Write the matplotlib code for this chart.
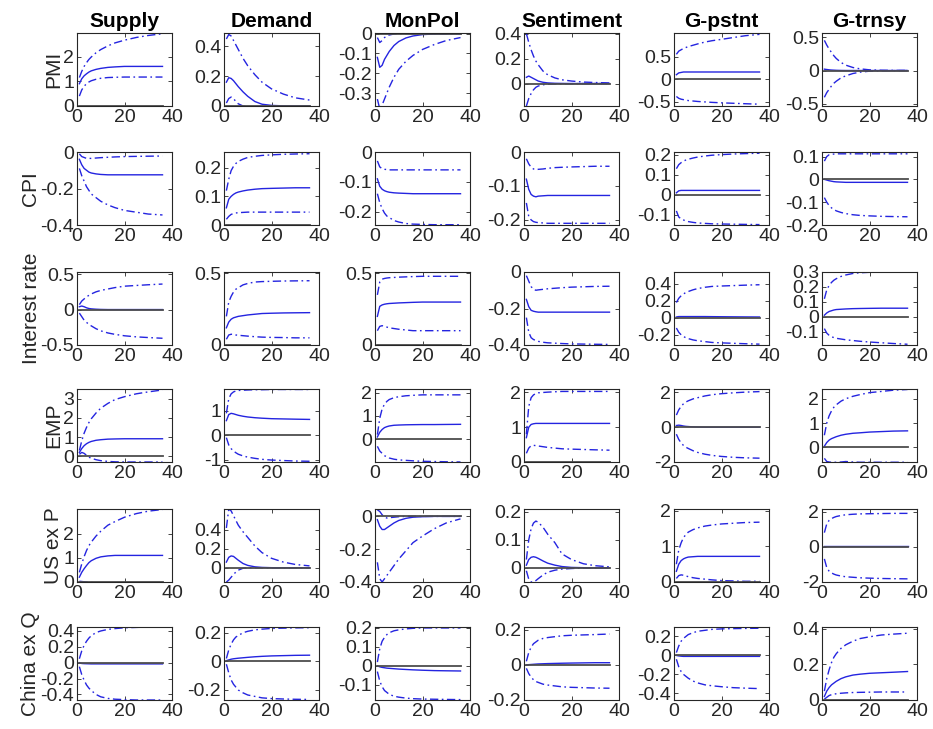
import matplotlib.pyplot as plt

plt.rcParams['font.family'] = ['Liberation Sans', 'DejaVu Sans']
plt.rcParams['axes.unicode_minus'] = False

h = [1, 2, 3, 4, 5, 6, 8, 10, 13, 16, 20, 25, 30, 36]

shocks = ['Supply', 'Demand', 'MonPol', 'Sentiment', 'G-pstnt', 'G-trnsy']
variables = ['PMI', 'CPI', 'Interest rate', 'EMP', 'US ex P', 'China ex Q']

# ---- PMI
pmi_sup_lo = [0.4, 0.65, 0.8, 0.9, 0.97, 1.02, 1.08, 1.12, 1.15, 1.16, 1.17, 1.17, 1.17, 1.17]
pmi_sup_md = [0.9, 1.1, 1.22, 1.3, 1.37, 1.42, 1.48, 1.52, 1.56, 1.58, 1.6, 1.6, 1.6, 1.6]
pmi_sup_hi = [1.15, 1.4, 1.6, 1.75, 1.88, 1.98, 2.15, 2.28, 2.43, 2.55, 2.66, 2.77, 2.85, 2.92]
pmi_dem_lo = [0.02, 0.05, 0.06, 0.05, 0.03, 0.015, 0.0, -0.005, -0.005, -0.005, -0.005, -0.005, -0.005, -0.005]
pmi_dem_md = [0.16, 0.19, 0.185, 0.17, 0.15, 0.13, 0.095, 0.065, 0.03, 0.012, 0.004, 0.001, 0.0, 0.0]
pmi_dem_hi = [0.45, 0.48, 0.47, 0.44, 0.41, 0.38, 0.32, 0.27, 0.21, 0.16, 0.115, 0.08, 0.055, 0.04]
pmi_mon_lo = [-0.33, -0.38, -0.36, -0.33, -0.3, -0.27, -0.22, -0.18, -0.14, -0.11, -0.08, -0.055, -0.035, -0.02]
pmi_mon_md = [-0.12, -0.17, -0.16, -0.13, -0.11, -0.09, -0.06, -0.04, -0.022, -0.012, -0.005, -0.002, -0.001, 0.0]
pmi_mon_hi = [-0.02, -0.045, -0.035, -0.02, -0.012, -0.007, -0.002, 0.0, 0.0, 0.0, 0.0, 0.0, 0.0, 0.0]
pmi_sen_lo = [-0.18, -0.12, -0.08, -0.05, -0.03, -0.02, -0.01, -0.005, -0.003, -0.002, -0.001, 0.0, 0.0, 0.0]
pmi_sen_md = [0.05, 0.06, 0.05, 0.04, 0.03, 0.02, 0.01, 0.005, 0.002, 0.001, 0.0, 0.0, 0.0, 0.0]
pmi_sen_hi = [0.4, 0.33, 0.27, 0.22, 0.18, 0.15, 0.1, 0.07, 0.045, 0.03, 0.02, 0.012, 0.008, 0.005]
pmi_pst_lo = [-0.38, -0.42, -0.44, -0.45, -0.46, -0.47, -0.48, -0.49, -0.5, -0.51, -0.52, -0.53, -0.54, -0.55]
pmi_pst_md = [0.1, 0.14, 0.15, 0.16, 0.16, 0.16, 0.16, 0.16, 0.16, 0.16, 0.16, 0.16, 0.16, 0.16]
pmi_pst_hi = [0.55, 0.62, 0.65, 0.68, 0.7, 0.72, 0.75, 0.78, 0.82, 0.85, 0.88, 0.92, 0.96, 0.99]
pmi_trn_lo = [-0.4, -0.33, -0.28, -0.23, -0.19, -0.16, -0.11, -0.08, -0.045, -0.025, -0.01, -0.004, -0.002, -0.001]
pmi_trn_md = [0.02, 0.015, 0.01, 0.007, 0.005, 0.003, 0.001, 0.0, 0.0, 0.0, 0.0, 0.0, 0.0, 0.0]
pmi_trn_hi = [0.45, 0.38, 0.32, 0.27, 0.22, 0.18, 0.12, 0.08, 0.045, 0.025, 0.01, 0.004, 0.002, 0.001]

# ---- CPI
cpi_sup_lo = [-0.09, -0.13, -0.16, -0.19, -0.21, -0.23, -0.25, -0.27, -0.29, -0.305, -0.32, -0.33, -0.34, -0.345]
cpi_sup_md = [-0.04, -0.07, -0.09, -0.1, -0.11, -0.115, -0.12, -0.123, -0.125, -0.125, -0.125, -0.125, -0.125, -0.125]
cpi_sup_hi = [-0.01, -0.025, -0.03, -0.035, -0.035, -0.035, -0.033, -0.031, -0.029, -0.027, -0.025, -0.024, -0.023, -0.022]
cpi_dem_lo = [0.02, 0.03, 0.037, 0.04, 0.042, 0.043, 0.044, 0.045, 0.045, 0.045, 0.045, 0.045, 0.045, 0.045]
cpi_dem_md = [0.06, 0.09, 0.1, 0.107, 0.112, 0.115, 0.119, 0.122, 0.125, 0.127, 0.128, 0.129, 0.13, 0.13]
cpi_dem_hi = [0.12, 0.16, 0.19, 0.205, 0.215, 0.222, 0.23, 0.236, 0.24, 0.243, 0.245, 0.247, 0.248, 0.249]
cpi_mon_lo = [-0.14, -0.17, -0.19, -0.205, -0.215, -0.22, -0.23, -0.235, -0.24, -0.242, -0.243, -0.244, -0.244, -0.244]
cpi_mon_md = [-0.09, -0.115, -0.125, -0.13, -0.133, -0.135, -0.137, -0.138, -0.139, -0.14, -0.14, -0.14, -0.14, -0.14]
cpi_mon_hi = [-0.03, -0.05, -0.056, -0.058, -0.059, -0.06, -0.06, -0.06, -0.06, -0.06, -0.06, -0.06, -0.06, -0.06]
cpi_sen_lo = [-0.15, -0.19, -0.2, -0.205, -0.207, -0.208, -0.209, -0.21, -0.21, -0.21, -0.21, -0.21, -0.21, -0.21]
cpi_sen_md = [-0.08, -0.11, -0.125, -0.13, -0.132, -0.13, -0.129, -0.128, -0.128, -0.128, -0.128, -0.128, -0.128, -0.128]
cpi_sen_hi = [-0.02, -0.035, -0.045, -0.05, -0.052, -0.051, -0.05, -0.048, -0.046, -0.045, -0.044, -0.043, -0.042, -0.042]
cpi_pst_lo = [-0.08, -0.11, -0.12, -0.125, -0.13, -0.133, -0.137, -0.14, -0.142, -0.144, -0.145, -0.146, -0.147, -0.148]
cpi_pst_md = [0.01, 0.02, 0.022, 0.022, 0.022, 0.022, 0.022, 0.022, 0.022, 0.022, 0.022, 0.022, 0.022, 0.022]
cpi_pst_hi = [0.13, 0.15, 0.16, 0.168, 0.173, 0.177, 0.183, 0.188, 0.193, 0.197, 0.2, 0.203, 0.205, 0.207]
cpi_trn_lo = [-0.08, -0.1, -0.115, -0.125, -0.132, -0.138, -0.145, -0.15, -0.155, -0.158, -0.16, -0.162, -0.163, -0.164]
cpi_trn_md = [0.0, -0.003, -0.006, -0.008, -0.01, -0.011, -0.012, -0.013, -0.013, -0.013, -0.013, -0.013, -0.013, -0.013]
cpi_trn_hi = [0.08, 0.1, 0.108, 0.11, 0.111, 0.112, 0.112, 0.112, 0.112, 0.112, 0.112, 0.112, 0.112, 0.112]

# ---- Interest rate
ir_sup_lo = [-0.05, -0.1, -0.15, -0.18, -0.21, -0.23, -0.27, -0.3, -0.33, -0.35, -0.37, -0.385, -0.395, -0.405]
ir_sup_md = [0.04, 0.05, 0.04, 0.025, 0.015, 0.01, 0.005, 0.002, 0.0, 0.0, 0.0, 0.0, 0.0, 0.0]
ir_sup_hi = [0.07, 0.12, 0.15, 0.18, 0.2, 0.22, 0.25, 0.27, 0.29, 0.31, 0.33, 0.34, 0.35, 0.36]
ir_dem_lo = [0.04, 0.07, 0.075, 0.075, 0.07, 0.068, 0.065, 0.062, 0.058, 0.055, 0.053, 0.052, 0.05, 0.05]
ir_dem_md = [0.12, 0.16, 0.18, 0.19, 0.195, 0.2, 0.205, 0.21, 0.215, 0.22, 0.222, 0.224, 0.225, 0.226]
ir_dem_hi = [0.2, 0.3, 0.34, 0.37, 0.39, 0.4, 0.42, 0.43, 0.44, 0.443, 0.445, 0.447, 0.448, 0.449]
ir_mon_lo = [0.1, 0.13, 0.135, 0.13, 0.125, 0.12, 0.115, 0.11, 0.105, 0.1, 0.1, 0.1, 0.1, 0.1]
ir_mon_md = [0.2, 0.27, 0.28, 0.285, 0.288, 0.29, 0.292, 0.294, 0.296, 0.298, 0.3, 0.3, 0.3, 0.3]
ir_mon_hi = [0.35, 0.44, 0.46, 0.465, 0.468, 0.47, 0.472, 0.474, 0.476, 0.478, 0.48, 0.48, 0.48, 0.48]
ir_sen_lo = [-0.25, -0.33, -0.36, -0.37, -0.375, -0.38, -0.385, -0.388, -0.39, -0.392, -0.394, -0.395, -0.396, -0.397]
ir_sen_md = [-0.15, -0.19, -0.21, -0.215, -0.218, -0.22, -0.22, -0.22, -0.22, -0.22, -0.22, -0.22, -0.22, -0.22]
ir_sen_hi = [-0.02, -0.05, -0.08, -0.095, -0.1, -0.098, -0.095, -0.092, -0.089, -0.086, -0.083, -0.081, -0.079, -0.078]
ir_pst_lo = [-0.12, -0.17, -0.2, -0.22, -0.235, -0.245, -0.26, -0.27, -0.28, -0.29, -0.295, -0.3, -0.305, -0.31]
ir_pst_md = [0.01, 0.015, 0.015, 0.015, 0.015, 0.015, 0.015, 0.015, 0.015, 0.014, 0.013, 0.012, 0.011, 0.01]
ir_pst_hi = [0.18, 0.23, 0.26, 0.28, 0.3, 0.31, 0.33, 0.345, 0.36, 0.37, 0.375, 0.38, 0.385, 0.39]
ir_trn_lo = [-0.08, -0.11, -0.125, -0.135, -0.14, -0.145, -0.15, -0.155, -0.16, -0.165, -0.17, -0.175, -0.18, -0.185]
ir_trn_md = [0.01, 0.025, 0.035, 0.04, 0.045, 0.048, 0.05, 0.052, 0.054, 0.055, 0.056, 0.057, 0.057, 0.057]
ir_trn_hi = [0.12, 0.18, 0.21, 0.23, 0.245, 0.255, 0.27, 0.28, 0.29, 0.295, 0.298, 0.3, 0.3, 0.3]

# ---- EMP
emp_sup_lo = [0.1, 0.2, 0.15, 0.05, -0.05, -0.1, -0.18, -0.23, -0.27, -0.29, -0.3, -0.3, -0.3, -0.3]
emp_sup_md = [0.2, 0.4, 0.55, 0.65, 0.72, 0.77, 0.83, 0.86, 0.89, 0.9, 0.91, 0.91, 0.91, 0.91]
emp_sup_hi = [0.3, 0.8, 1.2, 1.5, 1.75, 1.95, 2.25, 2.5, 2.75, 2.95, 3.1, 3.25, 3.35, 3.45]
emp_dem_lo = [-0.1, -0.4, -0.55, -0.65, -0.72, -0.78, -0.85, -0.9, -0.95, -0.99, -1.02, -1.04, -1.06, -1.07]
emp_dem_md = [0.6, 0.85, 0.9, 0.88, 0.85, 0.82, 0.78, 0.75, 0.72, 0.7, 0.68, 0.67, 0.66, 0.65]
emp_dem_hi = [0.9, 1.5, 1.7, 1.78, 1.82, 1.84, 1.85, 1.86, 1.87, 1.87, 1.88, 1.88, 1.88, 1.88]
emp_mon_lo = [-0.3, -0.5, -0.6, -0.7, -0.75, -0.8, -0.85, -0.88, -0.9, -0.92, -0.94, -0.95, -0.96, -0.97]
emp_mon_md = [0.1, 0.3, 0.42, 0.5, 0.54, 0.57, 0.6, 0.61, 0.62, 0.625, 0.63, 0.63, 0.635, 0.64]
emp_mon_hi = [0.2, 0.9, 1.3, 1.5, 1.62, 1.7, 1.78, 1.82, 1.86, 1.88, 1.9, 1.9, 1.9, 1.9]
emp_sen_lo = [0.25, 0.4, 0.47, 0.48, 0.47, 0.46, 0.44, 0.42, 0.4, 0.38, 0.37, 0.36, 0.35, 0.34]
emp_sen_md = [0.7, 1.0, 1.08, 1.1, 1.11, 1.11, 1.11, 1.11, 1.11, 1.11, 1.11, 1.11, 1.11, 1.11]
emp_sen_hi = [0.8, 1.6, 1.85, 1.93, 1.97, 1.99, 2.0, 2.01, 2.02, 2.03, 2.03, 2.03, 2.03, 2.03]
emp_pst_lo = [-0.4, -0.7, -0.9, -1.05, -1.15, -1.22, -1.35, -1.45, -1.55, -1.62, -1.68, -1.73, -1.76, -1.78]
emp_pst_md = [0.1, 0.12, 0.1, 0.07, 0.05, 0.04, 0.02, 0.01, 0.0, 0.0, 0.0, 0.0, 0.0, 0.0]
emp_pst_hi = [0.7, 1.0, 1.2, 1.35, 1.45, 1.52, 1.63, 1.7, 1.8, 1.87, 1.93, 1.98, 2.02, 2.05]
emp_trn_lo = [-0.45, -0.58, -0.6, -0.61, -0.61, -0.61, -0.6, -0.58, -0.6, -0.61, -0.61, -0.61, -0.61, -0.61]
emp_trn_md = [0.05, 0.2, 0.3, 0.36, 0.4, 0.44, 0.5, 0.54, 0.58, 0.6, 0.63, 0.65, 0.67, 0.68]
emp_trn_hi = [0.5, 1.0, 1.3, 1.5, 1.65, 1.75, 1.9, 2.0, 2.1, 2.17, 2.25, 2.3, 2.35, 2.38]

# ---- US ex P
us_sup_lo = [0.03, 0.02, 0.01, 0.0, -0.01, -0.02, -0.03, -0.04, -0.05, -0.05, -0.05, -0.05, -0.05, -0.05]
us_sup_md = [0.2, 0.4, 0.55, 0.68, 0.8, 0.88, 0.98, 1.04, 1.08, 1.1, 1.1, 1.1, 1.1, 1.1]
us_sup_hi = [0.4, 0.75, 1.05, 1.3, 1.5, 1.65, 1.9, 2.1, 2.35, 2.5, 2.68, 2.83, 2.93, 3.0]
us_dem_lo = [-0.15, -0.13, -0.1, -0.07, -0.045, -0.025, -0.005, 0.0, 0.0, 0.0, 0.0, 0.0, 0.0, 0.0]
us_dem_md = [0.06, 0.11, 0.125, 0.12, 0.1, 0.08, 0.045, 0.025, 0.01, 0.004, 0.001, 0.0, 0.0, 0.0]
us_dem_hi = [0.42, 0.62, 0.6, 0.55, 0.5, 0.45, 0.38, 0.32, 0.23, 0.16, 0.1, 0.06, 0.035, 0.02]
us_mon_lo = [-0.28, -0.38, -0.4, -0.38, -0.36, -0.34, -0.3, -0.26, -0.21, -0.16, -0.12, -0.075, -0.04, -0.015]
us_mon_md = [-0.02, -0.06, -0.08, -0.08, -0.07, -0.06, -0.04, -0.025, -0.012, -0.005, -0.002, 0.0, 0.0, 0.0]
us_mon_hi = [0.04, 0.03, 0.01, -0.005, -0.01, -0.008, -0.005, -0.002, 0.0, 0.0, 0.0, 0.0, 0.0, 0.0]
us_sen_lo = [-0.01, -0.04, -0.05, -0.05, -0.045, -0.038, -0.025, -0.015, -0.008, -0.004, -0.002, 0.0, 0.0, 0.0]
us_sen_md = [0.01, 0.03, 0.038, 0.04, 0.038, 0.034, 0.025, 0.017, 0.01, 0.005, 0.002, 0.001, 0.0, 0.0]
us_sen_hi = [0.03, 0.1, 0.14, 0.16, 0.167, 0.163, 0.145, 0.12, 0.09, 0.05, 0.03, 0.015, 0.008, 0.004]
us_pst_lo = [0.1, 0.18, 0.2, 0.19, 0.17, 0.15, 0.12, 0.1, 0.08, 0.06, 0.04, 0.03, 0.02, 0.02]
us_pst_md = [0.3, 0.5, 0.6, 0.65, 0.68, 0.7, 0.71, 0.72, 0.72, 0.72, 0.72, 0.72, 0.72, 0.72]
us_pst_hi = [0.5, 0.9, 1.1, 1.25, 1.33, 1.4, 1.47, 1.52, 1.57, 1.6, 1.63, 1.65, 1.67, 1.68]
us_trn_lo = [-0.7, -1.2, -1.4, -1.5, -1.57, -1.62, -1.68, -1.72, -1.75, -1.78, -1.8, -1.82, -1.83, -1.84]
us_trn_md = [0.02, 0.02, 0.02, 0.02, 0.02, 0.02, 0.02, 0.02, 0.02, 0.02, 0.02, 0.02, 0.02, 0.02]
us_trn_hi = [0.8, 1.3, 1.5, 1.6, 1.67, 1.72, 1.78, 1.82, 1.85, 1.87, 1.88, 1.89, 1.9, 1.9]

# ---- China ex Q
cn_sup_lo = [-0.05, -0.15, -0.22, -0.28, -0.32, -0.35, -0.4, -0.43, -0.45, -0.46, -0.465, -0.47, -0.47, -0.47]
cn_sup_md = [0.0, -0.01, -0.012, -0.013, -0.014, -0.015, -0.015, -0.015, -0.015, -0.015, -0.015, -0.015, -0.015, -0.015]
cn_sup_hi = [0.05, 0.15, 0.22, 0.27, 0.31, 0.34, 0.38, 0.4, 0.42, 0.43, 0.44, 0.445, 0.45, 0.45]
cn_dem_lo = [-0.02, -0.08, -0.13, -0.16, -0.18, -0.2, -0.22, -0.235, -0.245, -0.255, -0.26, -0.263, -0.265, -0.266]
cn_dem_md = [0.005, 0.01, 0.015, 0.018, 0.02, 0.022, 0.025, 0.028, 0.032, 0.035, 0.038, 0.04, 0.042, 0.043]
cn_dem_hi = [0.02, 0.08, 0.12, 0.15, 0.17, 0.18, 0.2, 0.21, 0.22, 0.225, 0.23, 0.232, 0.234, 0.235]
cn_mon_lo = [-0.03, -0.08, -0.11, -0.13, -0.14, -0.15, -0.16, -0.165, -0.17, -0.173, -0.175, -0.176, -0.177, -0.178]
cn_mon_md = [0.0, -0.005, -0.008, -0.01, -0.012, -0.013, -0.015, -0.017, -0.019, -0.021, -0.023, -0.025, -0.026, -0.027]
cn_mon_hi = [0.02, 0.09, 0.13, 0.15, 0.165, 0.175, 0.185, 0.19, 0.195, 0.198, 0.2, 0.2, 0.2, 0.2]
cn_sen_lo = [-0.02, -0.05, -0.07, -0.085, -0.095, -0.1, -0.11, -0.115, -0.12, -0.125, -0.128, -0.13, -0.132, -0.133]
cn_sen_md = [0.0, 0.001, 0.002, 0.003, 0.004, 0.005, 0.006, 0.007, 0.008, 0.009, 0.01, 0.011, 0.012, 0.012]
cn_sen_hi = [0.02, 0.07, 0.1, 0.12, 0.13, 0.14, 0.15, 0.155, 0.16, 0.165, 0.168, 0.17, 0.172, 0.175]
cn_pst_lo = [-0.04, -0.12, -0.17, -0.2, -0.22, -0.24, -0.27, -0.29, -0.31, -0.32, -0.33, -0.34, -0.345, -0.35]
cn_pst_md = [0.0, -0.005, -0.008, -0.01, -0.01, -0.01, -0.01, -0.01, -0.01, -0.01, -0.01, -0.01, -0.01, -0.01]
cn_pst_hi = [0.03, 0.1, 0.15, 0.18, 0.2, 0.22, 0.24, 0.255, 0.265, 0.275, 0.28, 0.283, 0.285, 0.287]
cn_trn_lo = [0.005, 0.015, 0.025, 0.03, 0.033, 0.035, 0.038, 0.04, 0.042, 0.043, 0.044, 0.045, 0.045, 0.045]
cn_trn_md = [0.02, 0.05, 0.07, 0.085, 0.095, 0.105, 0.12, 0.13, 0.14, 0.145, 0.15, 0.153, 0.156, 0.16]
cn_trn_hi = [0.05, 0.12, 0.17, 0.21, 0.24, 0.26, 0.29, 0.31, 0.33, 0.345, 0.355, 0.365, 0.37, 0.375]

irf = [
    [(pmi_sup_lo, pmi_sup_md, pmi_sup_hi), (pmi_dem_lo, pmi_dem_md, pmi_dem_hi),
     (pmi_mon_lo, pmi_mon_md, pmi_mon_hi), (pmi_sen_lo, pmi_sen_md, pmi_sen_hi),
     (pmi_pst_lo, pmi_pst_md, pmi_pst_hi), (pmi_trn_lo, pmi_trn_md, pmi_trn_hi)],
    [(cpi_sup_lo, cpi_sup_md, cpi_sup_hi), (cpi_dem_lo, cpi_dem_md, cpi_dem_hi),
     (cpi_mon_lo, cpi_mon_md, cpi_mon_hi), (cpi_sen_lo, cpi_sen_md, cpi_sen_hi),
     (cpi_pst_lo, cpi_pst_md, cpi_pst_hi), (cpi_trn_lo, cpi_trn_md, cpi_trn_hi)],
    [(ir_sup_lo, ir_sup_md, ir_sup_hi), (ir_dem_lo, ir_dem_md, ir_dem_hi),
     (ir_mon_lo, ir_mon_md, ir_mon_hi), (ir_sen_lo, ir_sen_md, ir_sen_hi),
     (ir_pst_lo, ir_pst_md, ir_pst_hi), (ir_trn_lo, ir_trn_md, ir_trn_hi)],
    [(emp_sup_lo, emp_sup_md, emp_sup_hi), (emp_dem_lo, emp_dem_md, emp_dem_hi),
     (emp_mon_lo, emp_mon_md, emp_mon_hi), (emp_sen_lo, emp_sen_md, emp_sen_hi),
     (emp_pst_lo, emp_pst_md, emp_pst_hi), (emp_trn_lo, emp_trn_md, emp_trn_hi)],
    [(us_sup_lo, us_sup_md, us_sup_hi), (us_dem_lo, us_dem_md, us_dem_hi),
     (us_mon_lo, us_mon_md, us_mon_hi), (us_sen_lo, us_sen_md, us_sen_hi),
     (us_pst_lo, us_pst_md, us_pst_hi), (us_trn_lo, us_trn_md, us_trn_hi)],
    [(cn_sup_lo, cn_sup_md, cn_sup_hi), (cn_dem_lo, cn_dem_md, cn_dem_hi),
     (cn_mon_lo, cn_mon_md, cn_mon_hi), (cn_sen_lo, cn_sen_md, cn_sen_hi),
     (cn_pst_lo, cn_pst_md, cn_pst_hi), (cn_trn_lo, cn_trn_md, cn_trn_hi)],
]

ylims = [
    [(0, 2.95), (0, 0.49), (-0.365, 0.003), (-0.18, 0.405), (-0.59, 1.02), (-0.53, 0.56)],
    [(-0.4, 0.0), (0, 0.255), (-0.245, 0.0), (-0.215, 0.0), (-0.15, 0.213), (-0.2, 0.12)],
    [(-0.5, 0.53), (0, 0.51), (0, 0.51), (-0.4, 0.0), (-0.32, 0.54), (-0.19, 0.3)],
    [(-0.3, 3.5), (-1.1, 1.9), (-0.97, 2.15), (0, 2.1), (-2, 2.2), (-0.6, 2.4)],
    [(0, 3.02), (-0.15, 0.62), (-0.4, 0.045), (-0.05, 0.21), (0, 2.05), (-2.02, 2.15)],
    [(-0.47, 0.45), (-0.27, 0.24), (-0.18, 0.205), (-0.2, 0.215), (-0.47, 0.3), (0, 0.41)],
]
yticks = [
    [[0, 1, 2], [0, 0.2, 0.4], [-0.3, -0.2, -0.1, 0], [0, 0.2, 0.4], [-0.5, 0, 0.5], [-0.5, 0, 0.5]],
    [[-0.4, -0.2, 0], [0, 0.1, 0.2], [-0.2, -0.1, 0], [-0.2, -0.1, 0], [-0.1, 0, 0.1, 0.2], [-0.2, -0.1, 0, 0.1]],
    [[-0.5, 0, 0.5], [0, 0.5], [0, 0.5], [-0.4, -0.2, 0], [-0.2, 0, 0.2, 0.4], [-0.1, 0, 0.1, 0.2, 0.3]],
    [[0, 1, 2, 3], [-1, 0, 1], [0, 1, 2], [0, 1, 2], [-2, 0, 2], [0, 1, 2]],
    [[0, 1, 2], [0, 0.2, 0.4], [-0.4, -0.2, 0], [0, 0.1, 0.2], [0, 1, 2], [-2, 0, 2]],
    [[-0.4, -0.2, 0, 0.2, 0.4], [-0.2, 0, 0.2], [-0.1, 0, 0.1, 0.2], [-0.2, 0, 0.2], [-0.4, -0.2, 0, 0.2], [0, 0.2, 0.4]],
]

W, H = 933, 729
lefts = [77, 224, 375, 524, 674, 822]
tops = [33, 152, 272, 389, 509, 627]
aw, ah = 95, 73
blue = '#2424e0'
dd = (6, 2.5, 1.2, 2.5)

fig = plt.figure(figsize=(W / 100, H / 100), dpi=100)

for i in range(6):
    for j in range(6):
        ax = fig.add_axes([lefts[j] / W, 1 - (tops[i] + ah) / H, aw / W, ah / H])
        lo, md, hi = irf[i][j]
        ax.plot(h, lo, color=blue, lw=1.0, dashes=dd)
        ax.plot(h, hi, color=blue, lw=1.0, dashes=dd)
        ax.plot(h, md, color=blue, lw=1.0)
        ax.plot([h[0], h[-1]], [0, 0], color='0.3', lw=1.3)
        ax.set_xlim(0, 40)
        ax.set_xticks([0, 20, 40])
        ax.set_ylim(ylims[i][j])
        ax.set_yticks(yticks[i][j])
        ax.set_yticklabels(['%g' % t for t in yticks[i][j]])
        ax.tick_params(direction='in', top=True, right=True, length=3, width=0.6,
                       labelsize=14, color='0.15', labelcolor='0.15', pad=2)
        for s in ax.spines.values():
            s.set_color('0.15')
            s.set_linewidth(0.8)
        if i == 0:
            ax.set_title(shocks[j], fontsize=15, fontweight='bold', pad=4)
        if j == 0:
            ax.set_ylabel(variables[i], fontsize=15, color='0.15', labelpad=0)

fig.savefig('out.png', dpi=100, facecolor='white')
